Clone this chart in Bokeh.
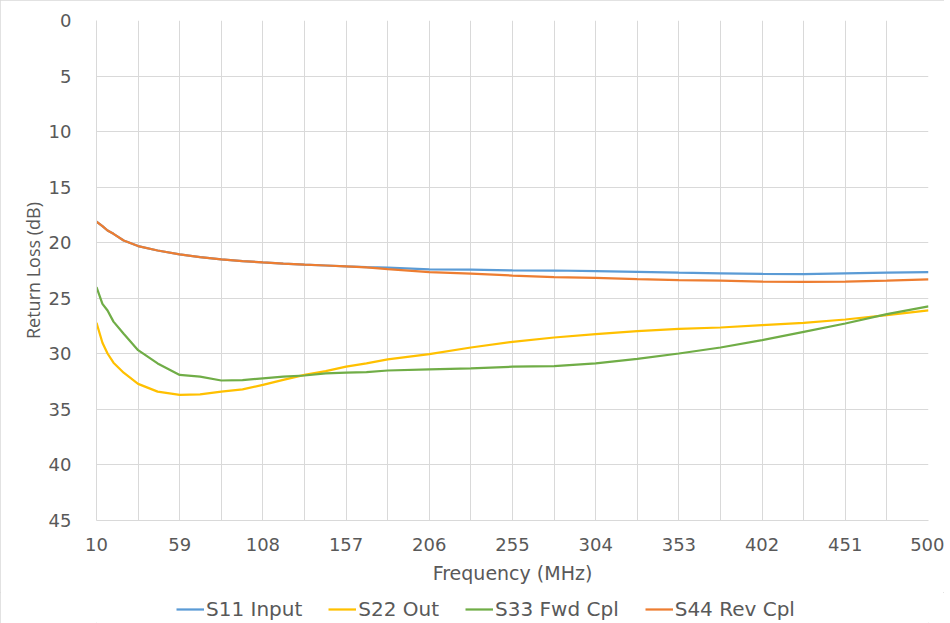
from bokeh.plotting import figure
from bokeh.layouts import column
from bokeh.models import Range1d, FixedTicker, Legend, LegendItem
from bokeh.embed import file_html
from bokeh.resources import INLINE

freq = [10, 13.5, 16.5, 20, 26, 34.5, 46, 59, 71, 83.5, 96, 108, 120, 132.5, 145, 157,
        169, 181.5, 206, 230.5, 255, 279.5, 304, 328.5, 353, 377.5, 402, 426.5, 451, 475.5, 500]

s11 = [18.1, 18.5, 18.9, 19.2, 19.8, 20.3, 20.7, 21.05, 21.3, 21.5, 21.65, 21.77, 21.88, 21.98, 22.05, 22.13,
       22.2, 22.25, 22.4, 22.43, 22.49, 22.5, 22.55, 22.62, 22.7, 22.75, 22.8, 22.82, 22.76, 22.7, 22.64]
s22 = [27.2, 29.0, 29.97, 30.8, 31.7, 32.7, 33.4, 33.7, 33.65, 33.4, 33.2, 32.8, 32.35, 31.9, 31.55, 31.15,
       30.85, 30.5, 30.03, 29.43, 28.92, 28.53, 28.23, 27.95, 27.75, 27.63, 27.42, 27.21, 26.91, 26.52, 26.08]
s33 = [24.0, 25.5, 26.1, 27.1, 28.2, 29.67, 30.86, 31.9, 32.06, 32.4, 32.36, 32.2, 32.05, 31.95, 31.76, 31.7,
       31.65, 31.5, 31.4, 31.31, 31.16, 31.1, 30.86, 30.45, 29.97, 29.43, 28.77, 28.02, 27.27, 26.43, 25.72]
s44 = [18.1, 18.5, 18.9, 19.2, 19.8, 20.3, 20.7, 21.05, 21.3, 21.5, 21.65, 21.77, 21.88, 21.98, 22.05, 22.13,
       22.22, 22.37, 22.64, 22.78, 22.96, 23.1, 23.17, 23.28, 23.36, 23.42, 23.5, 23.53, 23.5, 23.42, 23.29]

series_names = ["S11 Input", "S22 Out", "S33 Fwd Cpl", "S44 Rev Cpl"]
series_colors = ["#5B9BD5", "#FFC000", "#70AD47", "#ED7D31"]

x_ticks = [10, 59, 108, 157, 206, 255, 304, 353, 402, 451, 500]
x_grid = [10 + 24.5 * i for i in range(21)]
y_ticks = [0, 5, 10, 15, 20, 25, 30, 35, 40, 45]

TXT = "#595959"
GRID = "#D9D9D9"
W = 944

p = figure(width=W, height=592, output_backend="svg", toolbar_location=None,
           x_range=Range1d(10, 500), y_range=Range1d(45, 0),
           min_border_left=96, min_border_right=16, min_border_top=20, min_border_bottom=72)
p.outline_line_color = None

p.xaxis.ticker = FixedTicker(ticks=x_ticks)
p.yaxis.ticker = FixedTicker(ticks=y_ticks)
p.xgrid.ticker = FixedTicker(ticks=x_grid)
p.ygrid.ticker = FixedTicker(ticks=y_ticks)
for g in (p.xgrid, p.ygrid):
    g.grid_line_color = GRID
    g.grid_line_width = 1

for ax in (p.xaxis, p.yaxis):
    ax.axis_line_color = GRID
    ax.major_tick_line_color = None
    ax.minor_tick_line_color = None
    ax.major_label_text_color = TXT
    ax.major_label_text_font = "DejaVu Sans"
    ax.major_label_text_font_size = "18px"
    ax.axis_label_text_color = TXT
    ax.axis_label_text_font_style = "normal"

p.xaxis.major_label_standoff = 11
p.yaxis.major_label_standoff = 19
p.xaxis.axis_label = "Frequency (MHz)"
p.xaxis.axis_label_text_font = "DejaVu Sans"
p.xaxis.axis_label_text_font_size = "19px"
p.xaxis.axis_label_standoff = 8
p.yaxis.axis_label = "Return Loss (dB)"
p.yaxis.axis_label_text_font = "Open Sans"
p.yaxis.axis_label_text_font_size = "18px"
p.yaxis.axis_label_standoff = 1

series = [s11, s22, s33, s44]
for col, ys in zip(series_colors, series):
    p.line(freq, ys, line_color=col, line_width=2.25)

# legend strip below the chart
lg = figure(width=W, height=31, output_backend="svg", toolbar_location=None,
            x_range=Range1d(10, 500), y_range=Range1d(0, 1),
            x_axis_location=None, y_axis_location=None,
            min_border_left=0, min_border_right=0, min_border_top=0, min_border_bottom=0)
lg.grid.visible = False
lg.outline_line_color = None
items = []
for name, col, ys in zip(series_names, series_colors, series):
    r = lg.line(freq, ys, line_color=col, line_width=2.25, visible=False)
    items.append(LegendItem(label=name, renderers=[r]))
legend = Legend(items=items, orientation="horizontal", location=(80, 2),
                glyph_width=28, glyph_height=20, label_standoff=2, spacing=26,
                padding=0, margin=0, border_line_color=None, background_fill_alpha=0,
                label_text_font="DejaVu Sans", label_text_font_size="20px",
                label_text_color=TXT)
lg.add_layout(legend, "center")

layout = column(p, lg, spacing=0,
                styles={"outline": "1px solid #D9D9D9", "outline-offset": "-1px"})

open("out.html", "w").write(file_html(layout, INLINE))
